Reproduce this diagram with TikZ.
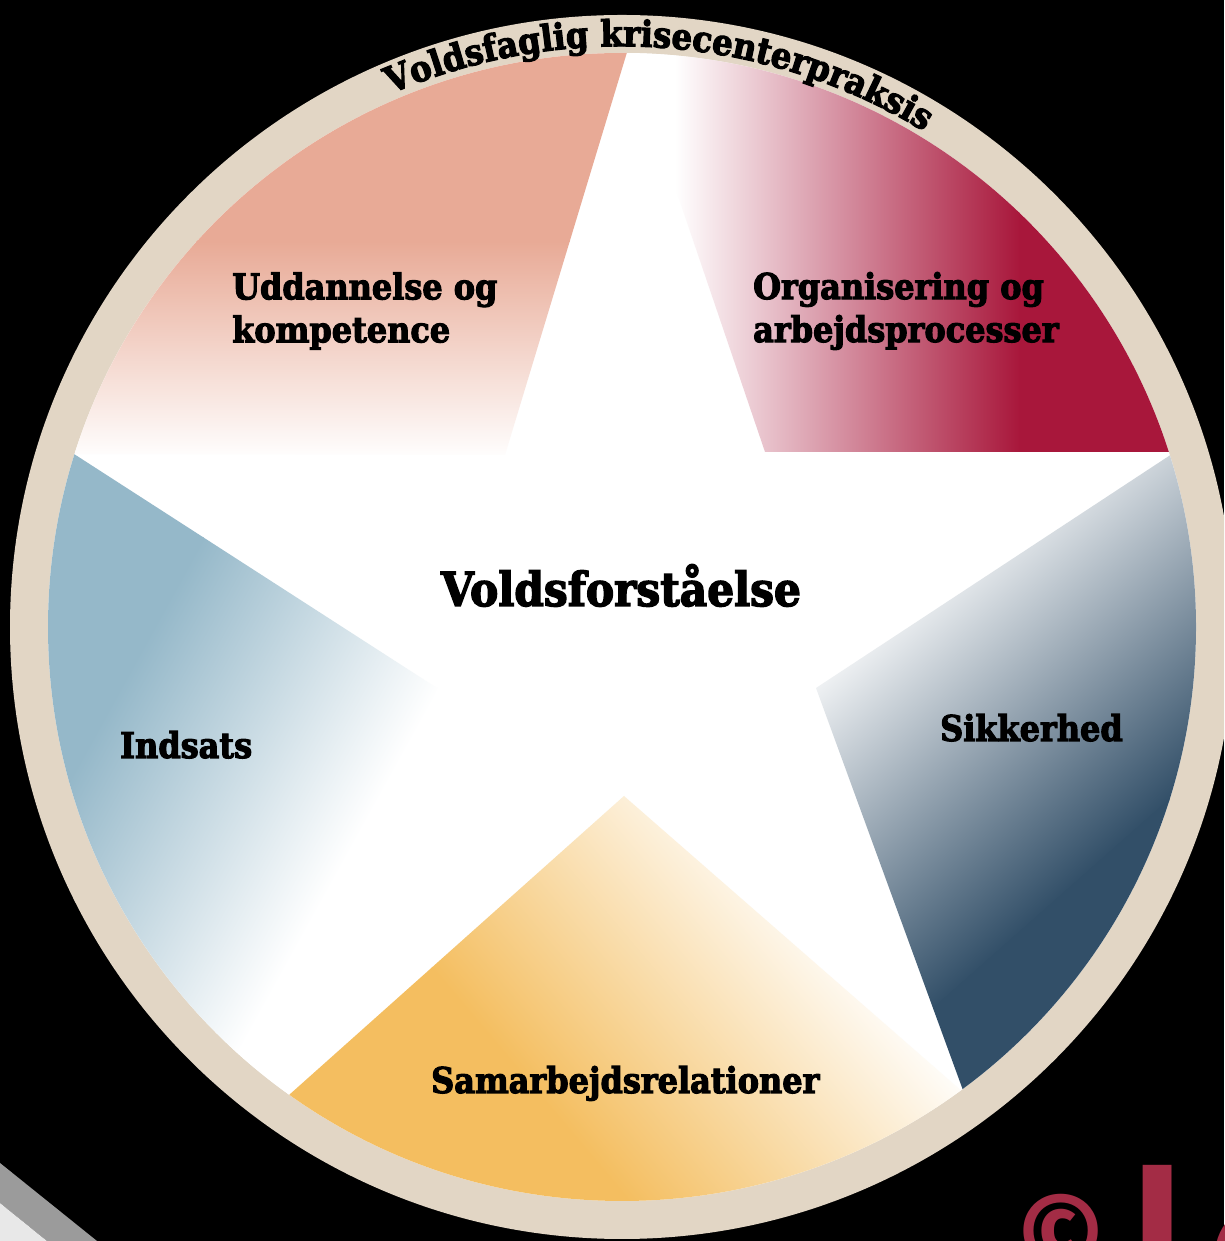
\documentclass[tikz,border=0pt]{standalone}
\usepackage{fontspec}
\usetikzlibrary{decorations.text}
\newfontfamily\slabfont{DejaVu Serif}[FakeStretch=0.9, BoldFeatures={FakeBold=3}]
\newfontfamily\logofont{Fira Sans}
\newfontfamily\logobar{Liberation Sans}
\definecolor{ringbeige}{RGB}{226,214,197}
\definecolor{salmon}{RGB}{232,170,150}
\definecolor{crimson}{RGB}{168,23,59}
\definecolor{navyblue}{RGB}{50,79,104}
\definecolor{amber}{RGB}{244,190,96}
\definecolor{steelblue}{RGB}{149,184,201}
\definecolor{logored}{RGB}{163,44,69}
\definecolor{bandgray}{RGB}{155,155,155}
\definecolor{bandlight}{RGB}{232,232,232}
\newcommand\arcfontsel{\slabfont\bfseries\fontsize{36}{36}\selectfont}
\tikzset{
  seglabel/.style={font=\slabfont\bfseries\fontsize{35.5}{43}\selectfont, inner sep=0pt, text=black},
  biglabel/.style={font=\slabfont\bfseries\fontsize{47}{52}\selectfont, inner sep=0pt, text=black},
  logotext/.style={text=logored, inner sep=0pt},
}
\begin{document}
\begin{tikzpicture}[x=1pt,y=1pt]
\useasboundingbox (0,0) rectangle (1224,1241);
\fill[black] (0,0) rectangle (1224,1241);
\begin{scope}
\clip (0,0) rectangle (1224,1241);
% ring and disc
\fill[ringbeige] (622,614) circle[radius=612];
\fill[white] (622,614) circle[radius=574];
% segment 1: Uddannelse (salmon, vertical)
\begin{scope}
\clip (622,614) circle[radius=574];
\clip (505,786) -- (74,787) -- (-100,787) -- (-100,1400) -- (628,1400) -- (628,1192) -- cycle;
\begin{scope}[transform canvas={shift={(628,781)},rotate=90}]
 \fill[white] (-3000,-3000) rectangle (0,3000);
 \shade[left color=white,right color=salmon] (0,-3000) rectangle (219,3000);
 \fill[salmon] (218,-3000) rectangle (3000,3000);
\end{scope}
\end{scope}
% segment 2: Organisering (crimson, horizontal)
\begin{scope}
\clip (622,614) circle[radius=574];
\clip (628,1192) -- (628,1400) -- (1400,1400) -- (1400,789) -- (1175,789) -- (765,789) -- cycle;
\begin{scope}[transform canvas={shift={(675,600)}}]
 \fill[white] (-3000,-3000) rectangle (0,3000);
 \shade[left color=white,right color=crimson] (0,-3000) rectangle (345,3000);
 \fill[crimson] (344,-3000) rectangle (3000,3000);
\end{scope}
\end{scope}
% segment 3: Sikkerhed (navy, diagonal)
\begin{scope}
\clip (622,614) circle[radius=574];
\clip (1175,789) -- (1400,789) -- (1400,-100) -- (1099,-37) -- (964,148) -- (816,553) -- cycle;
\begin{scope}[transform canvas={shift={(850,621)},rotate=-48.5}]
 \fill[white] (-3000,-3000) rectangle (0,3000);
 \shade[left color=white,right color=navyblue] (0,-3000) rectangle (347,3000);
 \fill[navyblue] (346,-3000) rectangle (3000,3000);
\end{scope}
\end{scope}
% segment 4: Samarbejde (amber, diagonal)
\begin{scope}
\clip (622,614) circle[radius=574];
\clip (624,445) -- (964,148) -- (1099,-37) -- (157,-38) -- (289,146) -- cycle;
\begin{scope}[transform canvas={shift={(820,341)},rotate=-139.8}]
 \fill[white] (-3000,-3000) rectangle (0,3000);
 \shade[left color=white,right color=amber] (0,-3000) rectangle (341,3000);
 \fill[amber] (340,-3000) rectangle (3000,3000);
\end{scope}
\end{scope}
% segment 5: Indsats (steel blue, diagonal)
\begin{scope}
\clip (622,614) circle[radius=574];
\clip (437,553) -- (289,146) -- (157,-38) -- (-100,-100) -- (-100,787) -- (74,787) -- cycle;
\begin{scope}[transform canvas={shift={(400,481)},rotate=151.1}]
 \fill[white] (-3000,-3000) rectangle (0,3000);
 \shade[left color=white,right color=steelblue] (0,-3000) rectangle (280,3000);
 \fill[steelblue] (279,-3000) rectangle (3000,3000);
\end{scope}
\end{scope}
% labels
\node[seglabel, anchor=west, align=left] (udd) at (232,930) {Uddannelse og\\kompetence};
\node[seglabel, anchor=west, align=left] (org) at (753,930) {Organisering og\\arbejdsprocesser};
\node[biglabel, anchor=base] (vf) at (621,635) {Voldsforståelse};
\node[seglabel, anchor=base west] (ind) at (120,483) {Indsats};
\node[seglabel, anchor=base west] (sik) at (940,500) {Sikkerhed};
\node[seglabel, anchor=base west] (sam) at (431,148) {Samarbejdsrelationer};
% curved title
\path[decorate, decoration={text along path, text align=center,
  text={|\arcfontsel|Voldsfaglig krisecenterpraksis}}]
  (280.5,1084) arc[start angle=126, end angle=46, radius=580];
% corner bands
\fill[bandgray] (0,78) -- (97,0) -- (47,0) -- (0,38) -- cycle;
\fill[bandlight] (0,38) -- (47,0) -- (0,0) -- cycle;
% logo fragment
\node[logotext, font=\logofont\bfseries\fontsize{110}{110}\selectfont] (copy) at (1061,5) {©};
\node[logotext, font=\logobar\bfseries\fontsize{210}{210}\selectfont, anchor=north west] (lo) at (1128,76) {l\hspace{20pt}o};
\end{scope}
\end{tikzpicture}
\end{document}
